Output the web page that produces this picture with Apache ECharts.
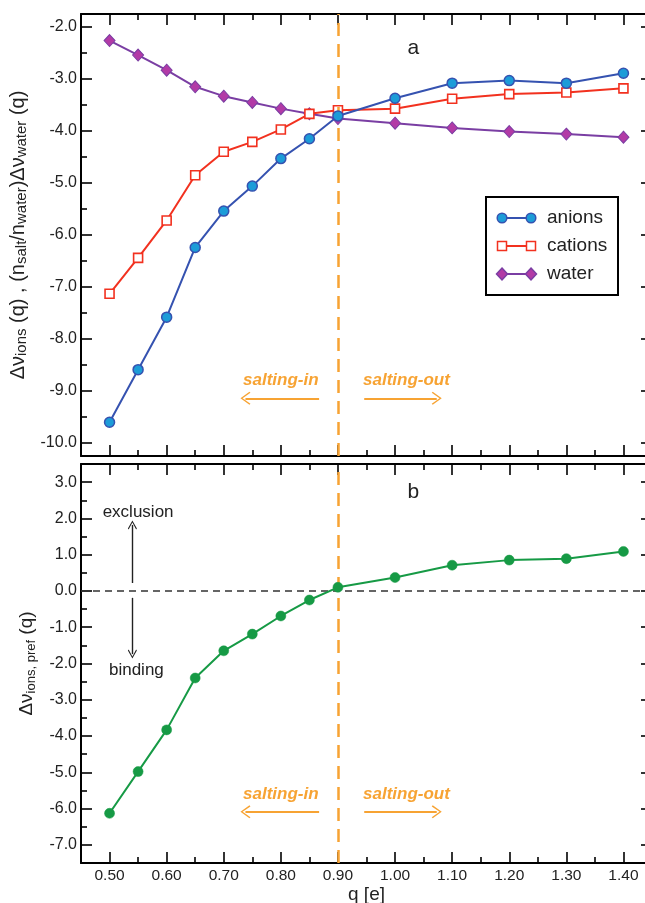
<!DOCTYPE html>
<html>
<head>
<meta charset="utf-8">
<script src="https://cdn.jsdelivr.net/npm/echarts@6/dist/echarts.min.js"></script>
<style>
html,body{margin:0;padding:0;background:#fff;}
#c{width:645px;height:903px;}
</style>
</head>
<body>
<div id="c"></div>
<script>
// ---------- data ----------
const q = [0.50, 0.55, 0.60, 0.65, 0.70, 0.75, 0.80, 0.85, 0.90, 1.00, 1.10, 1.20, 1.30, 1.40];
const anions  = [-9.60, -8.59, -7.58, -6.24, -5.54, -5.06, -4.53, -4.15, -3.71, -3.37, -3.08, -3.03, -3.08, -2.89];
const cations = [-7.13, -6.44, -5.72, -4.85, -4.40, -4.21, -3.97, -3.67, -3.60, -3.57, -3.38, -3.29, -3.26, -3.18];
const water   = [-2.26, -2.54, -2.83, -3.15, -3.33, -3.45, -3.57, -3.67, -3.76, -3.85, -3.94, -4.01, -4.06, -4.12];
const pref    = [-6.13, -4.98, -3.83, -2.40, -1.65, -1.19, -0.69, -0.25, 0.10, 0.37, 0.71, 0.85, 0.89, 1.09];

const xTicks      = [0.50, 0.60, 0.70, 0.80, 0.90, 1.00, 1.10, 1.20, 1.30, 1.40];
const xMinorTicks = [0.55, 0.65, 0.75, 0.85, 0.95, 1.05, 1.15, 1.25, 1.35];
const yTopTicks      = [-10, -9, -8, -7, -6, -5, -4, -3, -2];
const yTopMinorTicks = [-9.5, -8.5, -7.5, -6.5, -5.5, -4.5, -3.5, -2.5];
const yBotTicks      = [-7, -6, -5, -4, -3, -2, -1, 0, 1, 2, 3];
const yBotMinorTicks = [-6.5, -5.5, -4.5, -3.5, -2.5, -1.5, -0.5, 0.5, 1.5, 2.5];

const xRange = [0.45, 1.45];
const yTopRange = [-10.25, -1.75];
const yBotRange = [-7.5, 3.5];
const crossover = 0.902;

const seriesNames = ['anions', 'cations', 'water'];

// ---------- style ----------
const FONT = "'Liberation Sans', Arial, Helvetica, sans-serif";
const ORANGE = '#F7A333';
const C_AN_LINE = '#3552B0', C_AN_FILL = '#1C9CD8';
const C_CA = '#F2311F';
const C_WA_LINE = '#7A3EA3', C_WA_FILL = '#B23AA6';
const C_GR = '#169A45';

const chart = echarts.init(document.getElementById('c'), null, {renderer: 'canvas'});

function xAxisDef(grid, pos, major, showLabel) {
  return {
    type: 'value', gridIndex: grid, position: pos, min: xRange[0], max: xRange[1],
    axisLine: {show: major, onZero: false, lineStyle: {color: '#000', width: 2}},
    axisTick: {show: true, inside: true, length: major ? 11 : 6, lineStyle: {color: '#000', width: 1.6},
               customValues: major ? xTicks : xMinorTicks},
    axisLabel: {show: showLabel, customValues: xTicks, margin: 5, fontSize: 15.5, fontFamily: FONT, color: '#222',
                formatter: v => v.toFixed(2)},
    splitLine: {show: false}
  };
}
function yAxisDef(grid, pos, major, showLabel, range, ticks, minor) {
  return {
    type: 'value', gridIndex: grid, position: pos, min: range[0], max: range[1],
    axisLine: {show: major, onZero: false, lineStyle: {color: '#000', width: 2}},
    axisTick: {show: true, inside: true, length: major ? 11 : 6, lineStyle: {color: '#000', width: 1.6},
               customValues: major ? ticks : minor},
    axisLabel: {show: showLabel, customValues: ticks, margin: 4, fontSize: 16, fontFamily: FONT, color: '#222',
                formatter: v => v.toFixed(1)},
    splitLine: {show: false}
  };
}

const xAxes = [
  xAxisDef(0, 'bottom', true, false), xAxisDef(0, 'bottom', false, false),
  xAxisDef(0, 'top', true, false),    xAxisDef(0, 'top', false, false),
  xAxisDef(1, 'bottom', true, true),  xAxisDef(1, 'bottom', false, false),
  xAxisDef(1, 'top', true, false),    xAxisDef(1, 'top', false, false)
];
Object.assign(xAxes[4], {name: 'q [e]', nameLocation: 'middle', nameGap: 19,
  nameTextStyle: {fontSize: 19, fontFamily: FONT, color: '#222'}});

const yAxes = [
  yAxisDef(0, 'left', true, true, yTopRange, yTopTicks, yTopMinorTicks),
  yAxisDef(0, 'left', false, false, yTopRange, yTopTicks, yTopMinorTicks),
  yAxisDef(0, 'right', true, false, yTopRange, yTopTicks, yTopMinorTicks),
  yAxisDef(0, 'right', false, false, yTopRange, yTopTicks, yTopMinorTicks),
  yAxisDef(1, 'left', true, true, yBotRange, yBotTicks, yBotMinorTicks),
  yAxisDef(1, 'left', false, false, yBotRange, yBotTicks, yBotMinorTicks),
  yAxisDef(1, 'right', true, false, yBotRange, yBotTicks, yBotMinorTicks),
  yAxisDef(1, 'right', false, false, yBotRange, yBotTicks, yBotMinorTicks)
];
Object.assign(yAxes[0], {
  name: 'Δν{s|ions} (q) , (n{s|salt}/n{s|water})Δν{s|water} (q)',
  nameLocation: 'middle', nameRotate: 90, nameGap: 42,
  nameTextStyle: {fontSize: 20, fontFamily: FONT, color: '#222', lineHeight: 22,
    rich: {s: {fontSize: 15, fontFamily: FONT, color: '#222', verticalAlign: 'bottom', lineHeight: 14}}}
});
Object.assign(yAxes[4], {
  name: 'Δν{s|ions, pref} (q)',
  nameLocation: 'middle', nameRotate: 90, nameGap: 43,
  nameTextStyle: {fontSize: 19, fontFamily: FONT, color: '#222', lineHeight: 22,
    rich: {s: {fontSize: 13, fontFamily: FONT, color: '#222', verticalAlign: 'bottom', lineHeight: 12}}}
});

const chevron = 'path://M0,0 L6,9 L5,10 L0,2.2 L-5,10 L-6,9 Z';

function arrow(x1, y1, x2, y2, color, width, head) {
  return [
    {coord: [x1, y1], symbol: 'none', lineStyle: {color: color, width: width, type: 'solid'}},
    {coord: [x2, y2], symbol: chevron, symbolSize: head}
  ];
}
function txt(x, y, s, style) {
  return {coord: [x, y], symbol: 'circle', symbolSize: 0,
          label: Object.assign({show: true, position: 'inside', formatter: s, fontFamily: FONT}, style)};
}
const saltStyle = {color: ORANGE, fontSize: 17, fontWeight: 'bold', fontStyle: 'italic'};
const plainStyle = {color: '#222', fontSize: 17};
const vline = {xAxis: crossover, symbol: 'none',
  lineStyle: {color: ORANGE, width: 2.5, type: [13, 8]}};

const series = [
  {name: 'water', type: 'line', xAxisIndex: 0, yAxisIndex: 0, data: q.map((x, i) => [x, water[i]]),
   symbol: 'diamond', symbolSize: [11, 12], lineStyle: {color: C_WA_LINE, width: 2},
   itemStyle: {color: C_WA_FILL, borderColor: C_WA_LINE, borderWidth: 1}, z: 3},
  {name: 'cations', type: 'line', xAxisIndex: 0, yAxisIndex: 0, data: q.map((x, i) => [x, cations[i]]),
   symbol: 'rect', symbolSize: 9, lineStyle: {color: C_CA, width: 2},
   itemStyle: {color: '#fff', borderColor: C_CA, borderWidth: 1.6}, z: 4},
  {name: 'anions', type: 'line', xAxisIndex: 0, yAxisIndex: 0, data: q.map((x, i) => [x, anions[i]]),
   symbol: 'circle', symbolSize: 10, lineStyle: {color: C_AN_LINE, width: 2},
   itemStyle: {color: C_AN_FILL, borderColor: C_AN_LINE, borderWidth: 1.5}, z: 5,
   markLine: {silent: true, symbol: ['none', 'none'], label: {show: false}, animation: false,
     data: [vline,
            arrow(0.867, -9.14, 0.738, -9.14, ORANGE, 1.8, [13, 10]),
            arrow(0.946, -9.14, 1.073, -9.14, ORANGE, 1.8, [13, 10])]},
   markPoint: {silent: true, animation: false,
     data: [txt(1.032, -2.40, 'a', {color: '#222', fontSize: 21}),
            txt(0.80, -8.79, 'salting-in', saltStyle),
            txt(1.02, -8.79, 'salting-out', saltStyle)]}},
  {name: 'pref', type: 'line', xAxisIndex: 4, yAxisIndex: 4, data: q.map((x, i) => [x, pref[i]]),
   symbol: 'circle', symbolSize: 10, lineStyle: {color: C_GR, width: 2},
   itemStyle: {color: C_GR, borderColor: C_GR, borderWidth: 0.5}, z: 5,
   markLine: {silent: true, symbol: ['none', 'none'], label: {show: false}, animation: false,
     data: [{yAxis: 0, symbol: 'none', lineStyle: {color: '#333', width: 1.6, type: [7, 5]}},
            vline,
            arrow(0.867, -6.09, 0.738, -6.09, ORANGE, 1.8, [13, 10]),
            arrow(0.946, -6.09, 1.073, -6.09, ORANGE, 1.8, [13, 10]),
            arrow(0.54, 0.22, 0.54, 1.82, '#222', 1.4, [9, 9]),
            arrow(0.54, -0.19, 0.54, -1.74, '#222', 1.4, [9, 9])]},
   markPoint: {silent: true, animation: false,
     data: [txt(1.032, 2.71, 'b', {color: '#222', fontSize: 21}),
            txt(0.80, -5.62, 'salting-in', saltStyle),
            txt(1.02, -5.62, 'salting-out', saltStyle),
            txt(0.55, 2.16, 'exclusion', plainStyle),
            txt(0.547, -2.18, 'binding', plainStyle)]}}
];

// ---------- legend (drawn as graphic, styles matched to series) ----------
const legendStyles = {
  anions:  {kind: 'circle', line: C_AN_LINE, fill: C_AN_FILL, stroke: C_AN_LINE},
  cations: {kind: 'rect', line: C_CA, fill: '#fff', stroke: C_CA},
  water:   {kind: 'diamond', line: C_WA_LINE, fill: C_WA_FILL, stroke: C_WA_LINE}
};
const LG = {x: 486, y: 197, w: 132, h: 98, x1: 502, x2: 531, tx: 547, y0: 218, dy: 28};
const legendEls = [{type: 'rect', shape: {x: LG.x, y: LG.y, width: LG.w, height: LG.h},
  style: {fill: '#fff', stroke: '#000', lineWidth: 2}, z: 100}];
function marker(kind, cx, cy, st) {
  const style = {fill: st.fill, stroke: st.stroke, lineWidth: 1.5};
  if (kind === 'circle') return {type: 'circle', shape: {cx, cy, r: 4.8}, style, z: 102};
  if (kind === 'rect') return {type: 'rect', shape: {x: cx - 4.5, y: cy - 4.5, width: 9, height: 9}, style, z: 102};
  return {type: 'polygon', shape: {points: [[cx, cy - 6], [cx + 5.5, cy], [cx, cy + 6], [cx - 5.5, cy]]}, style, z: 102};
}
seriesNames.forEach((n, i) => {
  const st = legendStyles[n], y = LG.y0 + i * LG.dy;
  legendEls.push({type: 'line', shape: {x1: LG.x1, y1: y, x2: LG.x2, y2: y}, style: {stroke: st.line, lineWidth: 2}, z: 101});
  legendEls.push(marker(st.kind, LG.x1, y, st));
  legendEls.push(marker(st.kind, LG.x2, y, st));
  legendEls.push({type: 'text', x: LG.tx, y: y, style: {text: n, fontSize: 19, fontFamily: FONT, fill: '#222',
    textVerticalAlign: 'middle', verticalAlign: 'middle'}, z: 102});
});

chart.setOption({
  animation: false,
  backgroundColor: '#fff',
  grid: [
    {left: 81, top: 14, width: 571, height: 442, containLabel: false, outerBoundsMode: 'none'},
    {left: 81, top: 464, width: 571, height: 399, containLabel: false, outerBoundsMode: 'none'}
  ],
  xAxis: xAxes,
  yAxis: yAxes,
  series: series,
  graphic: legendEls
});
</script>
</body>
</html>
